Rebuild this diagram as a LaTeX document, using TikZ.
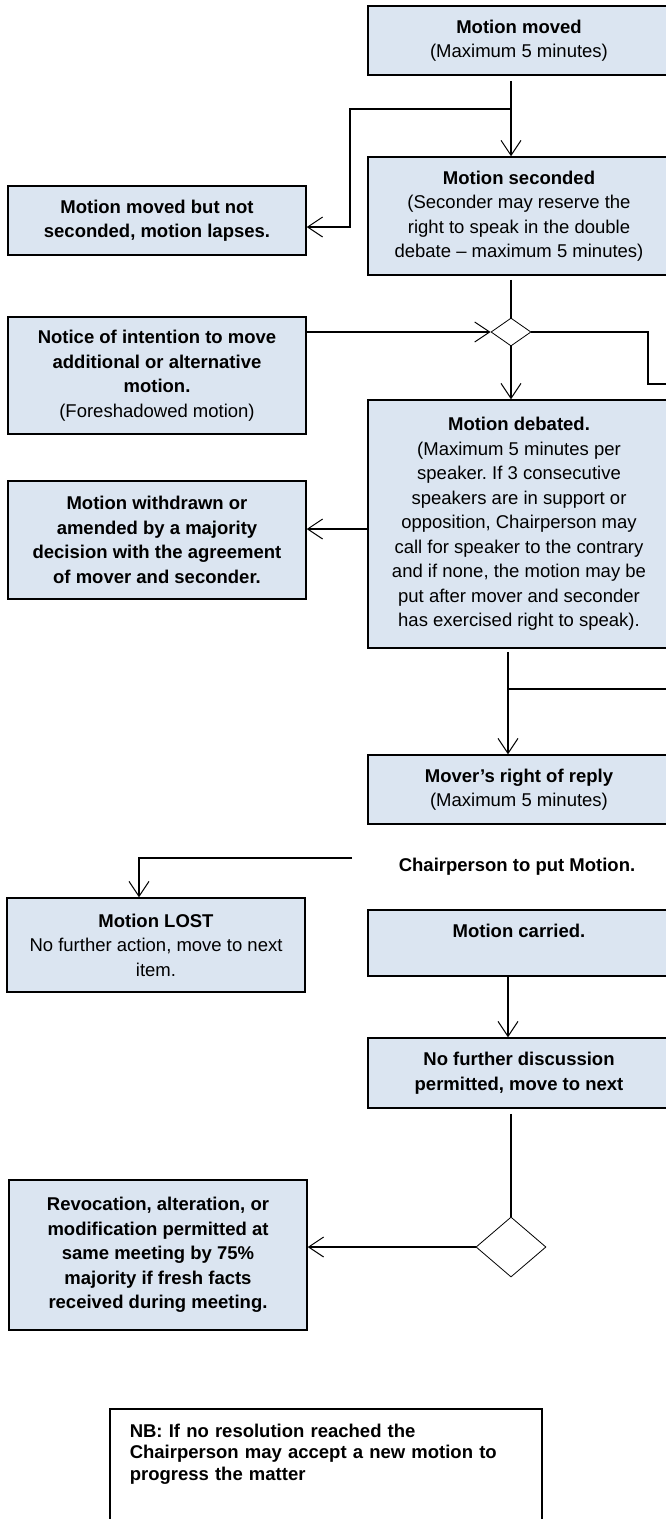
\documentclass[tikz,border=0pt]{standalone}
\usepackage{fontspec}
\setmainfont{Liberation Sans}
\usetikzlibrary{shapes.geometric,arrows.meta}
\definecolor{boxblue}{HTML}{DBE5F1}
\frenchspacing
\begin{document}
\begin{tikzpicture}[x=1pt,y=-1pt,line width=1.3pt,
        font=\fontsize{18.5}{24.5}\selectfont,
        box/.style={draw,fill=boxblue,line width=1.5pt,align=center,inner sep=0pt,
            minimum width=298pt},
        rbox/.style={box,minimum width=302pt},
        dmd/.style={diamond,draw,fill=white,line width=0.8pt,inner sep=0pt},
        arr/.style={-{Straight Barb[length=15pt,width=20pt,line width=1pt]}}]
\useasboundingbox (0,0) rectangle (665,1519);

\node[rbox,minimum height=69pt] (moved) at (519,40.5) {\textbf{Motion moved}\\(Maximum 5 minutes)};
\node[rbox,minimum height=118pt] (seconded) at (519,216) {\textbf{Motion seconded}\\(Seconder may reserve the\\right to speak in the double\\debate -- maximum 5 minutes)};
\node[box,minimum height=69pt] (lapses) at (157,220.5) {\textbf{Motion moved but not}\\\textbf{seconded, motion lapses.}};
\node[box,minimum height=117pt] (notice) at (157,375.5) {\textbf{Notice of intention to move}\\\textbf{additional or alternative}\\\textbf{motion.}\\(Foreshadowed motion)};
\node[dmd,minimum width=40pt,minimum height=28pt] (dmdA) at (511,332) {};
\node[rbox,minimum height=248pt] (debated) at (519,524) {\textbf{Motion debated.}\\(Maximum 5 minutes per\\speaker. If 3 consecutive\\speakers are in support or\\opposition, Chairperson may\\call for speaker to the contrary\\and if none, the motion may be\\put after mover and seconder\\has exercised right to speak).};
\node[box,minimum height=118pt] (withdrawn) at (157,540) {\textbf{Motion withdrawn or}\\\textbf{amended by a majority}\\\textbf{decision with the agreement}\\\textbf{of mover and seconder.}};
\node[rbox,minimum height=69pt] (mover) at (519,789.5) {\textbf{Mover's right of reply}\\(Maximum 5 minutes)};
\node (chair) at (517,867) {\textbf{Chairperson to put Motion.}};
\node[box,minimum height=94pt] (lost) at (156,945) {\textbf{Motion LOST}\\No further action, move to next\\item.};
\node[rbox,minimum height=66pt] (carried) at (519,943) {\textbf{Motion carried.}\\\mbox{}};
\node[rbox,minimum height=70pt] (nofurther) at (519,1073) {\textbf{No further discussion}\\\textbf{permitted, move to next}};
\node[dmd,minimum width=70pt,minimum height=60pt] (dmdB) at (511,1247) {};
\node[box,minimum height=150pt] (revocation) at (158,1255) {\textbf{Revocation, alteration, or}\\\textbf{modification permitted at}\\\textbf{same meeting by 75\%}\\\textbf{majority if fresh facts}\\\textbf{received during meeting.}};
\node[draw,line width=1.5pt,anchor=north west,text width=392pt,inner xsep=20pt,inner ysep=15pt,
    align=left,font=\bfseries\fontsize{18.5}{21.5}\selectfont] (nb) at (109,1408)
    {NB: If no resolution reached the\\Chairperson may accept a new motion to\\progress the matter\\[80pt]\mbox{}};

\coordinate (split) at (511,109);
\coordinate (chairend) at (352,858);
\draw[arr] ([yshift=-5pt]moved.south -| dmdA) -- (seconded.north -| dmdA);
\draw[arr] (split) -| (350,227) -- (lapses.east |- 0,227);
\draw ([yshift=-4pt]seconded.south -| dmdA) -- (dmdA.north);
\draw[arr] (dmdA.west -| notice.east) -- (dmdA.west);
\draw[arr] (dmdA.south) -- (debated.north -| dmdA);
\draw (dmdA.east) -| (648,384) -- (680,384);
\draw[arr] (debated.west |- 0,529) -- (withdrawn.east |- 0,529);
\draw[arr] ([yshift=-3pt]debated.south -| 508,0) -- (mover.north -| 508,0);
\draw (508,689) -- (680,689);
\draw[arr] (chairend) -| (lost.north -| 139,0);
\draw[arr] (carried.south -| 508,0) -- (nofurther.north -| 508,0);
\draw ([yshift=-5pt]nofurther.south -| dmdB) -- (dmdB.north);
\draw[arr] (dmdB.west) -- (dmdB.west -| revocation.east);

\end{tikzpicture}
\end{document}
